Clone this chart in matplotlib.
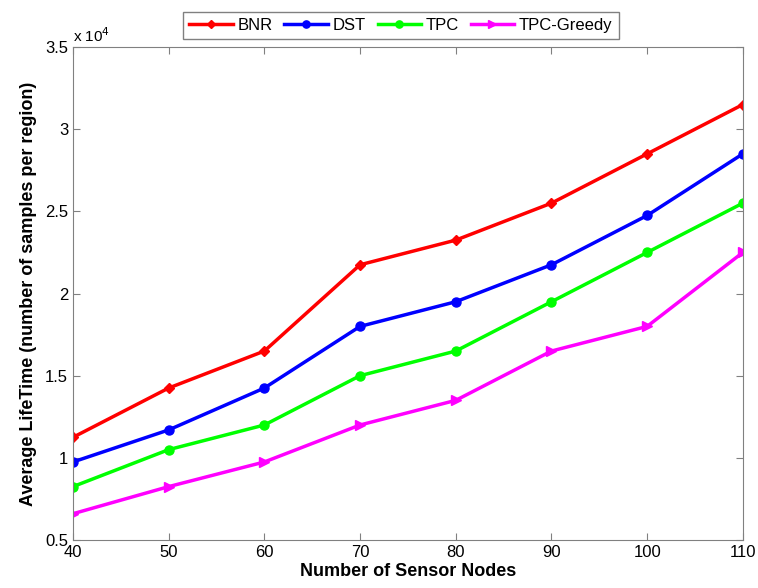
import matplotlib.pyplot as plt
import numpy as np
from matplotlib.ticker import FuncFormatter

plt.rcParams['font.family'] = ['Liberation Sans', 'DejaVu Sans']

nodes = [40, 50, 60, 70, 80, 90, 100, 110]
bnr = [11250, 14250, 16500, 21750, 23250, 25500, 28500, 31500]
dst = [9750, 11700, 14250, 18000, 19500, 21750, 24750, 28500]
tpc = [8250, 10500, 12000, 15000, 16500, 19500, 22500, 25500]
tpc_greedy = [6600, 8250, 9750, 12000, 13500, 16500, 18000, 22500]

fig = plt.figure(figsize=(7.58, 5.88), dpi=100)
ax = fig.add_axes([0.0963, 0.0816, 0.8837, 0.8384])

ax.plot(nodes, bnr, color='#ff0000', marker='D', ms=5.5, lw=2.5, label='BNR')
ax.plot(nodes, dst, color='#0000ff', marker='o', ms=6.5, lw=2.5, label='DST')
ax.plot(nodes, tpc, color='#00ff00', marker='o', ms=6.5, lw=2.5, label='TPC')
ax.plot(nodes, tpc_greedy, color='#ff00ff', marker='>', ms=6.5, lw=2.5, label='TPC-Greedy')

ax.set_xlim(40, 110)
ax.set_ylim(5000, 35000)
ax.set_xticks(np.arange(40, 111, 10))
ax.set_yticks(np.arange(5000, 35001, 5000))
ax.yaxis.set_major_formatter(FuncFormatter(lambda v, p: ('%g' % (v / 1e4))))
ax.tick_params(direction='in', top=True, right=True, labelsize=12, color='#808080', length=5)
for s in ax.spines.values():
    s.set_color('#808080')
ax.text(0.0, 1.005, r'x 10$^4$', transform=ax.transAxes, fontsize=11, va='bottom', ha='left')

ax.set_xlabel('Number of Sensor Nodes', fontsize=13, fontweight='bold', labelpad=2)
ax.set_ylabel('Average LifeTime (number of samples per region)', fontsize=13, fontweight='bold', labelpad=6)

fig.legend(loc='upper center', bbox_to_anchor=(0.529, 0.993), ncol=4, fontsize=12,
           fancybox=False, edgecolor='#606060', handlelength=2.6, columnspacing=0.7,
           handletextpad=0.3, borderpad=0.35, markerscale=0.8)

fig.savefig('out.png', dpi=100)
